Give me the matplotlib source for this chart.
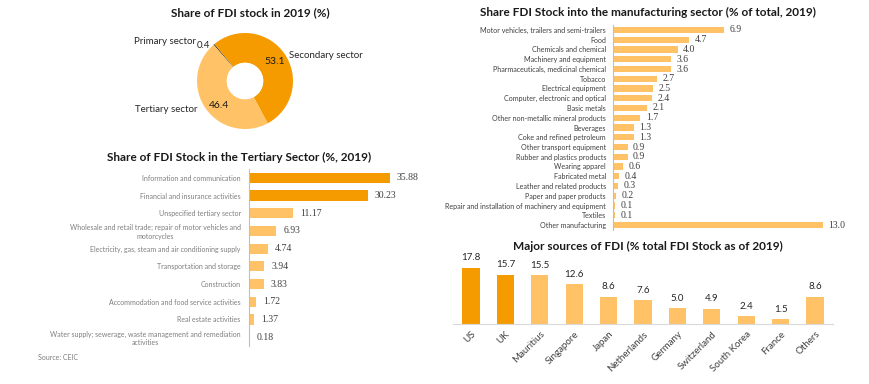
import matplotlib
matplotlib.use("Agg")
import matplotlib.pyplot as plt
from matplotlib.patches import Circle

W, H = 870, 384

# ---------------- data ----------------
sector_names = ["Primary sector", "Secondary sector", "Tertiary sector"]
sector_values = [0.4, 53.1, 46.4]

tertiary_cats = [
    "Information and communication",
    "Financial and insurance activities",
    "Unspecified tertiary sector",
    "Wholesale and retail trade; repair of motor vehicles and\nmotorcycles",
    "Electricity, gas, steam and air conditioning supply",
    "Transportation and storage",
    "Construction",
    "Accommodation and food service activities",
    "Real estate activities",
    "Water supply; sewerage, waste management and remediation\nactivities",
]
tertiary_vals = [35.88, 30.23, 11.17, 6.93, 4.74, 3.94, 3.83, 1.72, 1.37, 0.18]

manuf_cats = [
    "Motor vehicles, trailers and semi-trailers", "Food", "Chemicals and chemical",
    "Machinery and equipment", "Pharmaceuticals, medicinal chemical", "Tobacco",
    "Electrical equipment", "Computer, electronic and optical", "Basic metals",
    "Other non-metallic mineral products", "Beverages", "Coke and refined petroleum",
    "Other transport equipment", "Rubber and plastics products", "Wearing apparel",
    "Fabricated metal", "Leather and related products", "Paper and paper products",
    "Repair and installation of machinery and equipment", "Textiles", "Other manufacturing",
]
manuf_vals = [6.9, 4.7, 4.0, 3.6, 3.6, 2.7, 2.5, 2.4, 2.1, 1.7, 1.3, 1.3,
              0.9, 0.9, 0.6, 0.4, 0.3, 0.2, 0.1, 0.1, 13.0]

source_countries = ["US", "UK", "Mauritius", "Singapore", "Japan", "Netherlands",
                    "Germany", "Switzerland", "South Korea", "France", "Others"]
source_vals = [17.8, 15.7, 15.5, 12.6, 8.6, 7.6, 5.0, 4.9, 2.4, 1.5, 8.6]

DARK = "#F59B00"
LIGHT = "#FFC266"
PRIM = "#3d3d3d"
SANS = ["Lato", "DejaVu Sans"]
SERIF = ["Liberation Serif", "DejaVu Serif"]

fig = plt.figure(figsize=(W / 100, H / 100), dpi=100)
fig.patch.set_facecolor("white")


def ax_px(x0, y0, x1, y1):
    return fig.add_axes([x0 / W, 1 - y1 / H, (x1 - x0) / W, (y1 - y0) / H])


def ftext(x, y, s, **kw):
    fig.text(x / W, 1 - y / H, s, **kw)


# ---------------- donut ----------------
cx, cy, r = 245, 81, 48
axd = ax_px(cx - r, cy - r, cx + r, cy + r)
wedges, _ = axd.pie(sector_values, colors=[PRIM, DARK, LIGHT], startangle=131,
                    counterclock=False, radius=1.0,
                    wedgeprops=dict(width=0.62, linewidth=0))
axd.add_patch(Circle((0, 0), 0.38, facecolor="white", edgecolor="none", zorder=5))
axd.set_xlim(-1, 1)
axd.set_ylim(-1, 1)
axd.set_aspect("equal")
axd.axis("off")

ftext(250, 13, "Share of FDI stock in 2019 (%)", ha="center", va="center",
      fontsize=8.5, fontweight="bold", family=SANS, color="#1a1a1a")
ftext(196, 41, sector_names[0], ha="right", va="center", fontsize=7, family=SANS, color="#262626")
ftext(197, 46, f"{sector_values[0]:.1f}", ha="left", va="center", fontsize=7, family=SANS, color="#262626")
ftext(289, 55, sector_names[1], ha="left", va="center", fontsize=7, family=SANS, color="#262626")
ftext(275, 61, f"{sector_values[1]:.1f}", ha="center", va="center", fontsize=7.5, family=SANS, color="#1a1a1a")
ftext(198, 109, sector_names[2], ha="right", va="center", fontsize=7, family=SANS, color="#262626")
ftext(219, 106, f"{sector_values[2]:.1f}", ha="center", va="center", fontsize=7.5, family=SANS, color="#1a1a1a")

# ---------------- tertiary bars ----------------
axt = ax_px(249, 169, 424, 346)
tcol = [DARK if i < 2 else LIGHT for i in range(len(tertiary_vals))]
ypos = list(range(len(tertiary_vals)))
axt.barh(ypos, tertiary_vals, height=0.58, color=tcol)
axt.set_ylim(len(tertiary_vals) - 0.5, -0.5)
axt.set_xlim(0, 44.5)
for s in ["top", "right", "bottom"]:
    axt.spines[s].set_visible(False)
axt.spines["left"].set_color("#bfbfbf")
axt.spines["left"].set_linewidth(0.8)
axt.set_xticks([])
axt.set_yticks(ypos)
axt.set_yticklabels(tertiary_cats, fontsize=5, family=SANS, color="#7f7f7f",
                    multialignment="center")
axt.tick_params(axis="y", length=0, pad=6)
for y, v in zip(ypos, tertiary_vals):
    axt.annotate(f"{v:.2f}", (v, y), xytext=(5, 0), textcoords="offset points",
                 ha="left", va="center", fontsize=7, family=SERIF, color="#404040")
ftext(239, 157, "Share of FDI Stock in the Tertiary Sector (%, 2019)", ha="center",
      va="center", fontsize=8.5, fontweight="bold", family=SANS, color="#1a1a1a")
ftext(38, 357, "Source: CEIC", ha="left", va="center", fontsize=5, family=SANS, color="#7f7f7f")

# ---------------- manufacturing bars ----------------
axm = ax_px(613, 30 - 4.875, 863, 225 + 4.875)
mpos = list(range(len(manuf_vals)))
axm.barh(mpos, manuf_vals, height=0.62, color=LIGHT)
axm.set_ylim(len(manuf_vals) - 0.5, -0.5)
axm.set_xlim(0, 250 / 16.15)
for s in ["top", "right", "bottom"]:
    axm.spines[s].set_visible(False)
axm.spines["left"].set_color("#bfbfbf")
axm.spines["left"].set_linewidth(0.8)
axm.set_xticks([])
axm.set_yticks(mpos)
axm.set_yticklabels(manuf_cats, fontsize=5.1, family=SANS, color="#404040")
axm.tick_params(axis="y", length=0, pad=5)
for y, v in zip(mpos, manuf_vals):
    axm.annotate(f"{v:.1f}", (v, y), xytext=(4, 0), textcoords="offset points",
                 ha="left", va="center", fontsize=7, family=SERIF, color="#404040")
ftext(648, 12, "Share FDI Stock into the manufacturing sector (% of total, 2019)",
      ha="center", va="center", fontsize=8.5, fontweight="bold", family=SANS, color="#1a1a1a")

# ---------------- major sources ----------------
axs = ax_px(453, 255, 833, 324)
spos = list(range(len(source_vals)))
scol = [DARK if i < 2 else LIGHT for i in range(len(source_vals))]
axs.bar(spos, source_vals, width=0.5, color=scol)
axs.set_xlim(-0.52, 10.52)
axs.set_ylim(0, 69 / 3.15)
for s in ["top", "right", "left"]:
    axs.spines[s].set_visible(False)
axs.spines["bottom"].set_color("#d9d9d9")
axs.spines["bottom"].set_linewidth(0.8)
axs.set_yticks([])
axs.set_xticks(spos)
axs.set_xticklabels(source_countries, rotation=45, ha="right", rotation_mode="anchor",
                    fontsize=7, family=SANS, color="#404040")
axs.tick_params(axis="x", length=0, pad=4)
for x, v in zip(spos, source_vals):
    axs.annotate(f"{v:.1f}", (x, v), xytext=(0, 4), textcoords="offset points",
                 ha="center", va="bottom", fontsize=7, family=SANS, color="#262626",
                 annotation_clip=False)
ftext(648, 246, "Major sources of FDI (% total FDI Stock as of 2019)", ha="center",
      va="center", fontsize=8.5, fontweight="bold", family=SANS, color="#1a1a1a")

fig.savefig("out.png", dpi=100, facecolor="white")
